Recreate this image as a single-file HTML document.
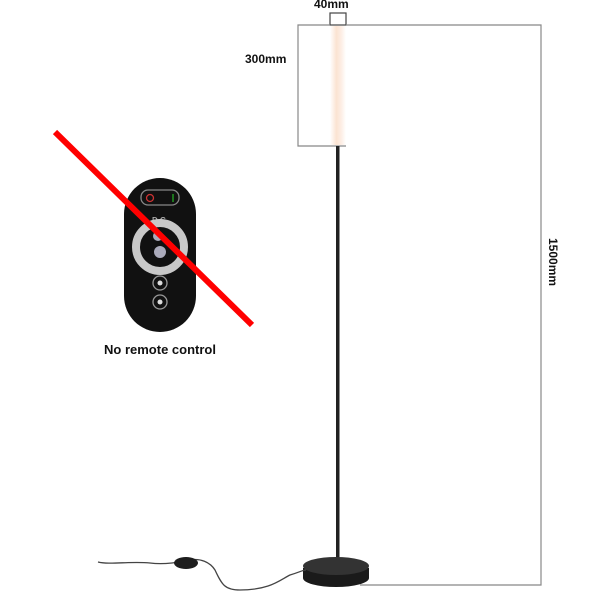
<!DOCTYPE html><html><head><style>body{margin:0;background:#fff}</style></head><body>
<svg width="602" height="608" xmlns="http://www.w3.org/2000/svg" font-family="Liberation Sans, sans-serif" font-weight="bold">
<defs><linearGradient id="t" x1="0" x2="1"><stop offset="0" stop-color="#fff"/><stop offset="0.4" stop-color="#fbe3d2"/><stop offset="0.7" stop-color="#fdeee4"/><stop offset="1" stop-color="#fff"/></linearGradient></defs>
<g stroke="#888" stroke-width="1.2" fill="none">
<rect x="330" y="13" width="16" height="12" stroke="#444"/>
<polyline points="346,25 541,25 541,585 360,585"/>
<polyline points="330,25 298,25 298,146 346,146"/>
</g>
<rect x="330" y="26" width="16" height="119" fill="url(#t)"/>
<rect x="336" y="146" width="3.5" height="416" fill="#222"/>
<path d="M303,568 L303,578 A33,9 0 0 0 369,578 L369,568 Z" fill="#1a1a1a"/>
<ellipse cx="336" cy="566" rx="33" ry="9" fill="#333"/>
<path d="M98,562 C110,565 130,561 150,563 C165,565 180,562 190,560 C200,558 210,562 215,570 C222,585 225,590 240,590 C270,590 280,580 290,575 C300,572 303,570 306,570" stroke="#444" stroke-width="1.3" fill="none"/>
<ellipse cx="186" cy="563" rx="12" ry="6" fill="#1d1d1d"/>
<text x="314" y="8" font-size="12" fill="#111">40mm</text>
<text x="245" y="63" font-size="12" fill="#111">300mm</text>
<text transform="translate(549,238) rotate(90)" font-size="12" fill="#111">1500mm</text>
<rect x="124" y="178" width="72" height="154" rx="36" fill="#111"/>
<rect x="141" y="190" width="38" height="15" rx="7" fill="none" stroke="#888" stroke-width="1.3"/>
<circle cx="150" cy="198" r="3.5" fill="none" stroke="#c33" stroke-width="1.3"/>
<line x1="173" y1="194" x2="173" y2="202" stroke="#2a2" stroke-width="1.3"/>
<text x="152" y="223" font-size="8" fill="#aaa">D C</text>
<circle cx="160" cy="247" r="24" fill="none" stroke="#c8c8c8" stroke-width="8"/>
<circle cx="160" cy="252" r="6" fill="#aab"/>
<circle cx="158" cy="236" r="5" fill="#aab"/>
<circle cx="160" cy="283" r="7" fill="none" stroke="#999" stroke-width="1.3"/>
<circle cx="160" cy="302" r="7" fill="none" stroke="#999" stroke-width="1.3"/>
<circle cx="160" cy="283" r="2.5" fill="#ddd"/><circle cx="160" cy="302" r="2.5" fill="#ddd"/>
<line x1="55" y1="132" x2="252" y2="325" stroke="#f00" stroke-width="6"/>
<text x="160" y="354" font-size="13" text-anchor="middle" fill="#111">No remote control</text>
</svg></body></html>
